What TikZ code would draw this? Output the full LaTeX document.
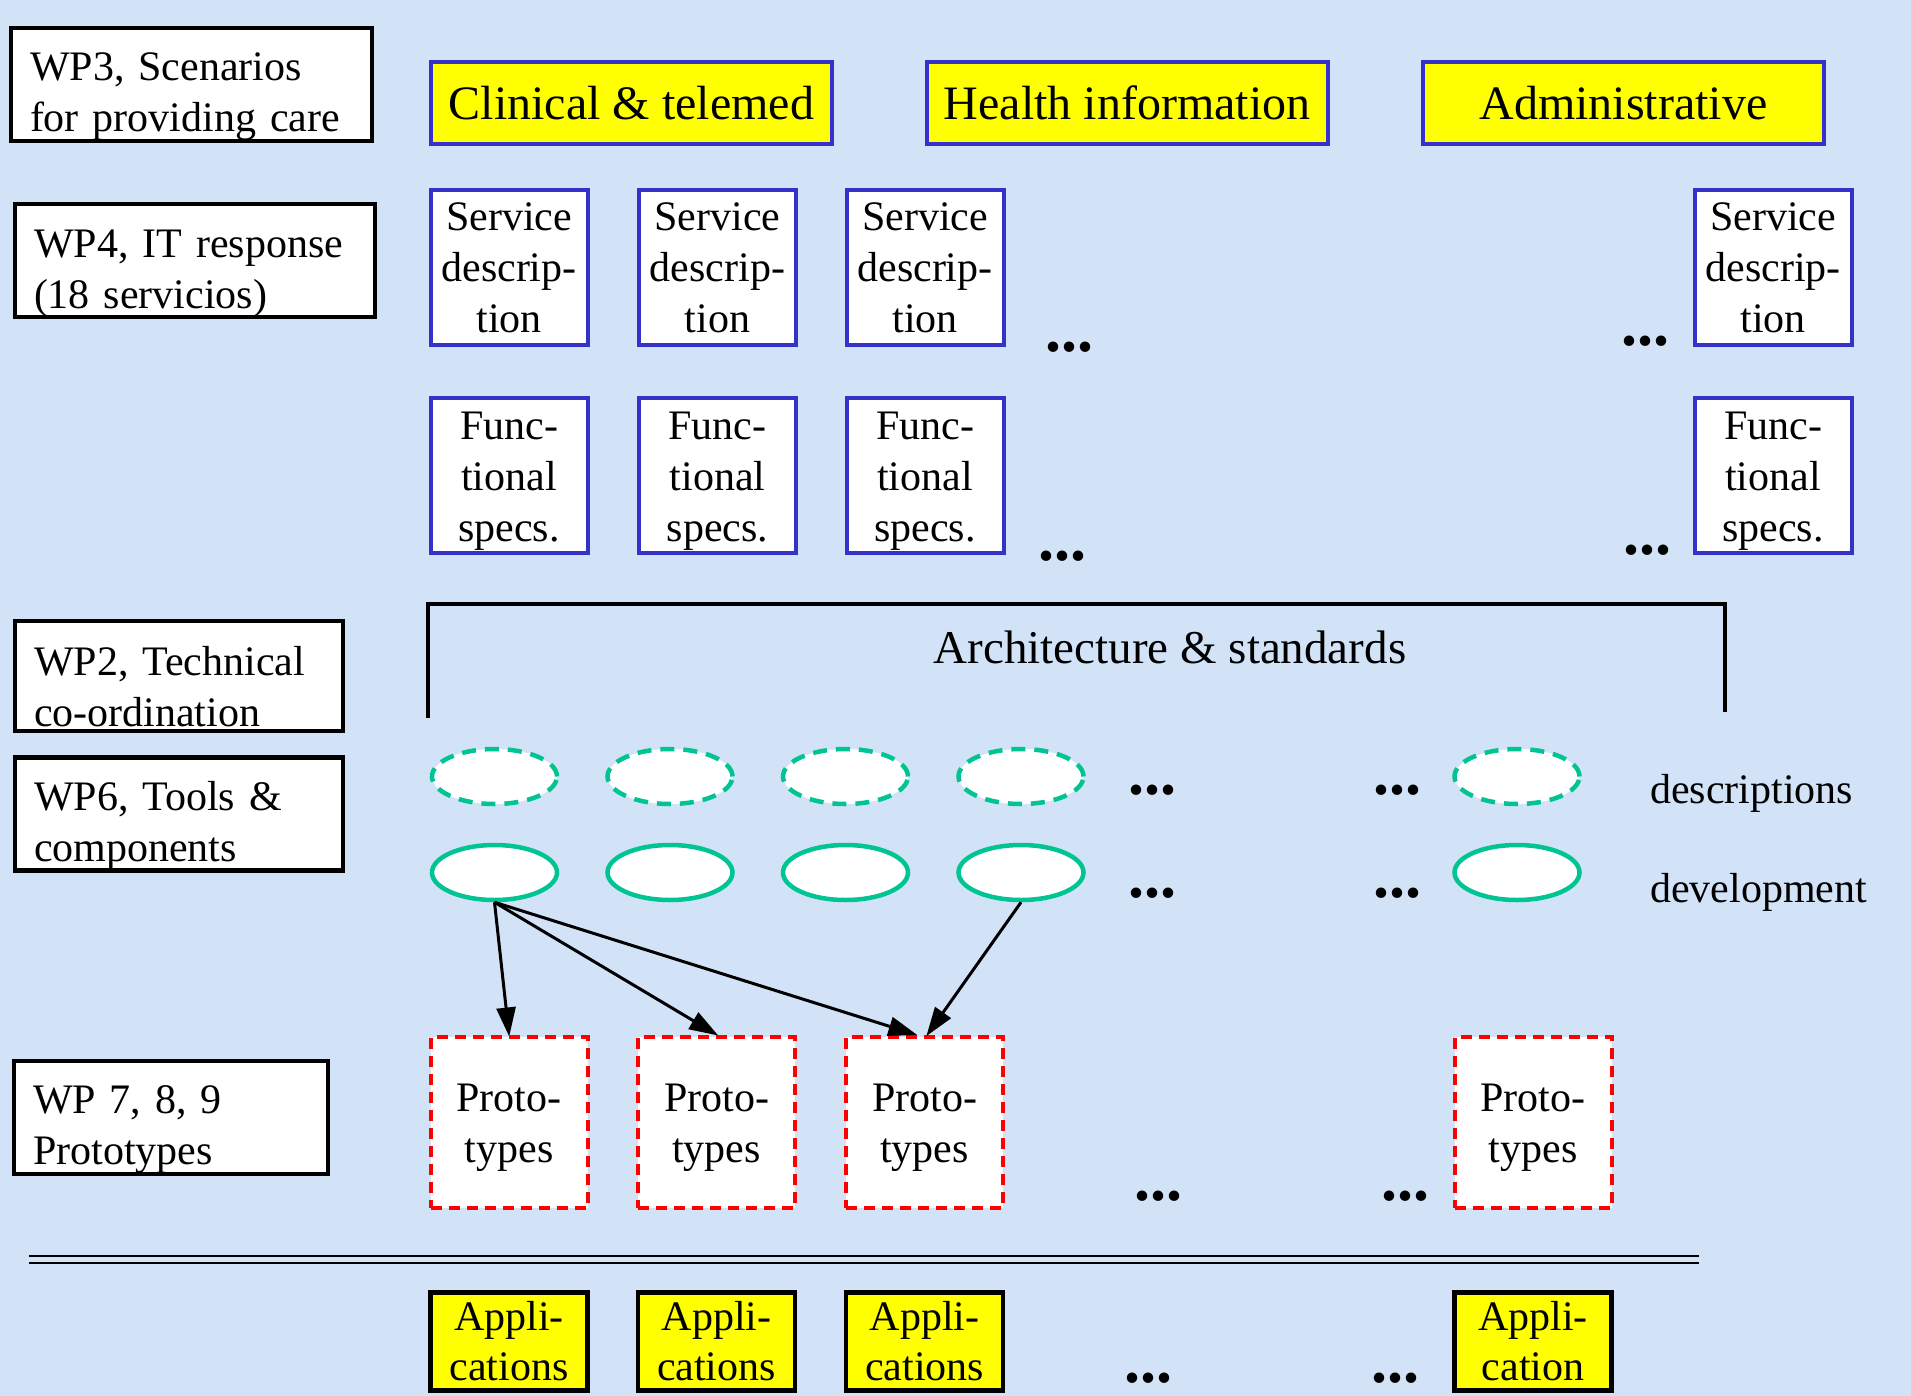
\documentclass[tikz,border=0pt]{standalone}
\usepackage{fontspec}
\setmainfont{Liberation Serif}
\usetikzlibrary{shapes.geometric,arrows.meta}
\definecolor{bgblue}{RGB}{210,227,248}
\definecolor{bord}{RGB}{51,51,204}
\definecolor{teal}{RGB}{0,196,146}
\definecolor{yel}{RGB}{255,255,0}
\newcommand{\myStrut}[1]{\rule{0pt}{#1}}
\tikzset{
  wp/.style={draw=black, line width=4.5pt, fill=white, align=left, inner xsep=18pt, inner ysep=0pt,
    font=\fontsize{42}{51}\selectfont, anchor=center},
  big/.style={draw=bord, line width=4pt, fill=yel, minimum width=401pt, minimum height=82pt,
    font=\fontsize{48}{56}\selectfont, inner sep=0pt, anchor=center},
  svc/.style={draw=bord, line width=4pt, fill=white, minimum width=157pt, minimum height=155pt,
    align=center, font=\fontsize{42}{51}\selectfont, inner sep=0pt, anchor=center},
  ell/.style={ellipse, draw=teal, line width=4.5pt, fill=white, minimum width=125pt, minimum height=55pt, inner sep=0pt},
  elld/.style={ell, dash pattern=on 14pt off 9pt},
  proto/.style={draw=red, line width=4pt, dash pattern=on 11pt off 7pt, fill=white, minimum width=157pt,
    minimum height=171pt, align=center, font=\fontsize{42}{51}\selectfont, inner sep=0pt, anchor=center},
  app/.style={draw=black, line width=4.5pt, fill=yel, minimum width=157pt, minimum height=98pt,
    align=center, font=\fontsize{42}{50}\selectfont, inner sep=0pt, anchor=center},
  dotz/.style={font=\fontsize{64}{64}\selectfont\bfseries, inner sep=0pt, anchor=base},
  lbl/.style={font=\fontsize{42}{51}\selectfont, inner sep=0pt},
  arr/.style={line width=3pt, -{Triangle[length=29pt,width=19pt]}, shorten >=-2pt}
}
\begin{document}
\begin{tikzpicture}[x=1pt,y=-1pt]
\useasboundingbox (0,0) rectangle (1911,1396);
\fill[bgblue] (0,0) rectangle (1911,1396);

% WP labels
\node[wp, minimum width=361pt, minimum height=111pt, text width=323pt] (wp3) at (191.5,84.5) {\myStrut{53pt}WP3, Scenarios\\for providing care};
\node[wp, minimum width=360pt, minimum height=111pt, text width=322pt] (wp4) at (195,260.5) {\myStrut{53pt}WP4, IT response\\(18 servicios)};
\node[wp, minimum width=328pt, minimum height=110pt, text width=290pt] (wp2) at (179,676) {\myStrut{50pt}WP2, Technical\\co-ordination};
\node[wp, minimum width=328pt, minimum height=110pt, text width=290pt] (wp6) at (179,814) {\myStrut{53pt}WP6, Tools \&\\components};
\node[wp, minimum width=314pt, minimum height=111pt, text width=276pt] (wp7) at (171,1117.5) {\myStrut{53pt}WP 7, 8, 9\\Prototypes};

% top categories
\node[big] (clin) at (631.5,103) {Clinical \& telemed};
\node[big] (heal) at (1127,103) {Health information};
\node[big] (admn) at (1623.5,103) {Administrative};

% service descriptions
\node[svc] (s1) at (509,267.5) {Service\\descrip-\\tion};
\node[svc] (s2) at (717.5,267.5) {Service\\descrip-\\tion};
\node[svc] (s3) at (925,267.5) {Service\\descrip-\\tion};
\node[svc] (s4) at (1773,267.5) {Service\\descrip-\\tion};
\node[dotz] (sd1) at (1069,352) {...};
\node[dotz] (sd2) at (1645,346) {...};

% functional specs
\node[svc] (f1) at (509,475) {\myStrut{40pt}Func-\\tional\\specs.};
\node[svc] (f2) at (717.5,475) {\myStrut{40pt}Func-\\tional\\specs.};
\node[svc] (f3) at (925,475) {\myStrut{40pt}Func-\\tional\\specs.};
\node[svc] (f4) at (1773,475) {\myStrut{40pt}Func-\\tional\\specs.};
\node[dotz] (fd1) at (1062,560) {...};
\node[dotz] (fd2) at (1647,554) {...};

% architecture bracket
\draw[line width=3.5pt] (428,718) -- (428,604) -- (1725,604) -- (1725,712);
\node[font=\fontsize{47}{56}\selectfont, inner sep=0pt, anchor=base] (arch) at (1170,663) {Architecture \& standards};

% description ellipses
\node[elld] (d1) at (494.5,776.5) {};
\node[elld] (d2) at (670,776.5) {};
\node[elld] (d3) at (845.5,776.5) {};
\node[elld] (d4) at (1021,776.5) {};
\node[elld] (d5) at (1517,776.5) {};
\node[dotz] (dd1) at (1152,794) {...};
\node[dotz] (dd2) at (1397,794) {...};
\node[lbl, anchor=base west] (desc) at (1650,803) {descriptions};

% development ellipses
\node[ell] (e1) at (494.5,872.5) {};
\node[ell] (e2) at (670,872.5) {};
\node[ell] (e3) at (845.5,872.5) {};
\node[ell] (e4) at (1021,872.5) {};
\node[ell] (e5) at (1517,872.5) {};
\node[dotz] (ed1) at (1152,897) {...};
\node[dotz] (ed2) at (1397,897) {...};
\node[lbl, anchor=base west] (devl) at (1650,902) {development};

% prototypes
\node[proto] (p1) at (509,1122) {\myStrut{40pt}Proto-\\types};
\node[proto] (p2) at (716.5,1122) {\myStrut{40pt}Proto-\\types};
\node[proto] (p3) at (924.5,1122) {\myStrut{40pt}Proto-\\types};
\node[proto] (p4) at (1533,1122) {\myStrut{40pt}Proto-\\types};
\node[dotz] (pd1) at (1158,1200) {...};
\node[dotz] (pd2) at (1405,1200) {...};

% arrows
\draw[arr] (e1.south) -- (p1.north);
\draw[arr] (e1.south) -- (p2.north);
\draw[arr] (e1.south) -- ([xshift=-9pt]p3.north);
\draw[arr] (e4.south) -- ([xshift=3pt]p3.north);

% double separator
\draw[line width=2.5pt] (29,1256) -- (1699,1256);
\draw[line width=2.5pt] (29,1263) -- (1699,1263);

% applications
\node[app] (a1) at (509,1341.5) {Appli-\\cations};
\node[app] (a2) at (716.5,1341.5) {Appli-\\cations};
\node[app] (a3) at (924.5,1341.5) {Appli-\\cations};
\node[app] (a4) at (1533,1341.5) {Appli-\\cation};
\node[dotz] (ad1) at (1148,1382) {...};
\node[dotz] (ad2) at (1395,1382) {...};
\end{tikzpicture}
\end{document}
